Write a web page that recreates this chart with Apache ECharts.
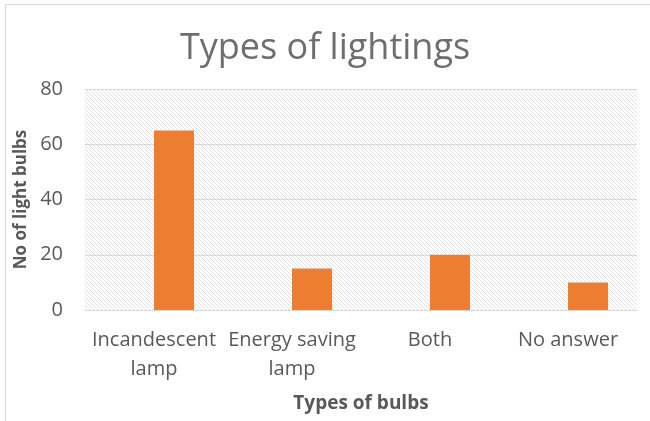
<!DOCTYPE html>
<html>
<head>
<meta charset="utf-8">
<script src="https://cdn.jsdelivr.net/npm/echarts@6/dist/echarts.min.js"></script>
<style>
  html, body { margin: 0; padding: 0; background: #fff; }
  #chart { width: 650px; height: 421px; }
  #frame { position: absolute; left: 5px; top: 4px; width: 660px; height: 430px; border: 1px solid #d9d9d9; box-sizing: border-box; pointer-events: none; }
</style>
</head>
<body>
<div id="chart"></div>
<div id="frame"></div>
<script>
const categories = ['Incandescent\nlamp', 'Energy saving\nlamp', 'Both', 'No answer'];
// Excel chart has an empty first series, which pushes the visible bars right of centre
const emptyValues = [null, null, null, null];
const values = [65, 15, 20, 10];
const yTicks = [0, 20, 40, 60, 80];

function hatch() {
  const c = document.createElement('canvas');
  c.width = 4;
  c.height = 4;
  const ctx = c.getContext('2d');
  ctx.fillStyle = '#ffffff';
  ctx.fillRect(0, 0, 4, 4);
  ctx.strokeStyle = '#e0e0e0';
  ctx.lineWidth = 1;
  ctx.beginPath();
  ctx.moveTo(-1, -1); ctx.lineTo(5, 5);
  ctx.moveTo(-1, 3); ctx.lineTo(1, 5);
  ctx.moveTo(3, -1); ctx.lineTo(5, 1);
  ctx.stroke();
  return c;
}

const chart = echarts.init(document.getElementById('chart'), null, { renderer: 'canvas' });
const font = '"Open Sans", sans-serif';

chart.setOption({
  animation: false,
  textStyle: { fontFamily: font },
  title: {
    text: 'Types of lightings',
    left: 'center',
    top: 26,
    textStyle: { fontFamily: font, fontSize: 36, fontWeight: 'normal', color: '#6e6e6e' }
  },
  grid: {
    left: 85, right: 13, top: 89, bottom: 111,
    show: true,
    borderWidth: 0,
    backgroundColor: { image: hatch(), repeat: 'repeat' }
  },
  xAxis: {
    type: 'category',
    data: categories,
    name: 'Types of bulbs',
    nameLocation: 'middle',
    nameGap: 84,
    nameTextStyle: { fontFamily: font, fontSize: 19, fontWeight: 'bold', color: '#595959' },
    axisLine: { lineStyle: { color: '#d9d9d9', width: 1 } },
    axisTick: { show: false },
    axisLabel: { interval: 0, fontSize: 20, color: '#595959', lineHeight: 29, margin: 16 }
  },
  yAxis: {
    type: 'value',
    min: yTicks[0],
    max: yTicks[yTicks.length - 1],
    interval: 20,
    name: 'No of light bulbs',
    nameLocation: 'middle',
    nameGap: 48,
    nameRotate: 90,
    nameTextStyle: { fontFamily: font, fontSize: 17, fontWeight: 'bold', color: '#595959' },
    axisLine: { show: false },
    axisTick: { show: false },
    axisLabel: { fontSize: 20, color: '#595959', margin: 22 },
    splitLine: { lineStyle: { color: '#d9d9d9', width: 1 } }
  },
  series: [
    {
      type: 'bar',
      data: emptyValues,
      barWidth: 40,
      barGap: '0%',
      itemStyle: { color: '#4472c4' }
    },
    {
      type: 'bar',
      data: values,
      barWidth: 40,
      barGap: '0%',
      itemStyle: { color: '#ed7d31' }
    }
  ]
});
</script>
</body>
</html>
